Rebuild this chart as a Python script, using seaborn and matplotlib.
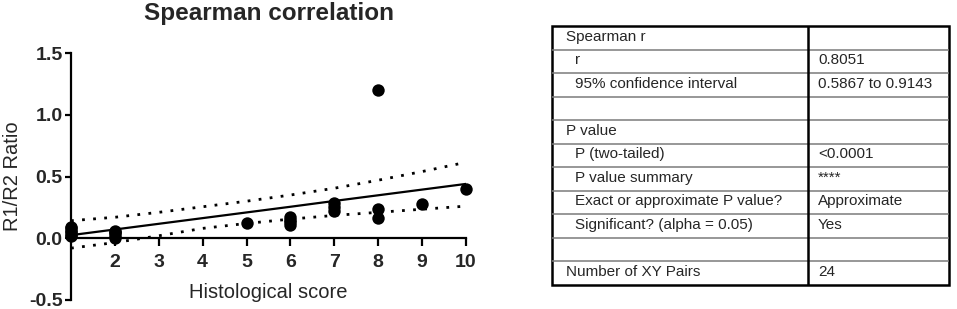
import matplotlib
matplotlib.use("Agg")
import pandas as pd
import seaborn as sns
import matplotlib.pyplot as plt
from matplotlib.patches import Rectangle

# Data
score = [1, 1, 1, 1, 1, 1, 2, 2, 2, 2, 2, 5, 6, 6, 6, 6, 7, 7, 7, 8, 8, 8, 9, 10]
ratio = [0.02, 0.03, 0.05, 0.06, 0.08, 0.09, 0.0, 0.02, 0.04, 0.05, 0.06,
         0.125, 0.11, 0.13, 0.15, 0.17, 0.22, 0.25, 0.285, 0.165, 0.235, 1.2,
         0.28, 0.395]

fit_x = [1, 2, 3, 4, 5, 6, 7, 8, 9, 10]
fit_y = [0.025, 0.071, 0.117, 0.163, 0.209, 0.255, 0.302, 0.348, 0.394, 0.44]
ci_upper = [0.142, 0.17, 0.21, 0.255, 0.30, 0.35, 0.405, 0.47, 0.54, 0.615]
ci_lower = [-0.08, -0.035, 0.02, 0.08, 0.12, 0.155, 0.185, 0.21, 0.235, 0.26]

x_ticks = [2, 3, 4, 5, 6, 7, 8, 9, 10]
y_ticks = [-0.5, 0.0, 0.5, 1.0, 1.5]
y_tick_labels = ["-0.5", "0.0", "0.5", "1.0", "1.5"]

# Result table
row_labels = ["Spearman r", "r", "95% confidence interval", "", "P value",
              "P (two-tailed)", "P value summary", "Exact or approximate P value?",
              "Significant? (alpha = 0.05)", "", "Number of XY Pairs"]
row_values = ["", "0.8051", "0.5867 to 0.9143", "", "", "<0.0001", "****",
              "Approximate", "Yes", "", "24"]
row_indent = [0, 1, 1, 0, 0, 1, 1, 1, 1, 0, 0]

sns.set_style("white")
plt.rcParams["font.family"] = ["Liberation Sans", "DejaVu Sans"]

fig = plt.figure(figsize=(9.57, 3.09), dpi=100)

# Scatter plot
ax = fig.add_axes([71 / 957, 1 - 300 / 309, 395 / 957, 247 / 309])
fit = pd.DataFrame({"x": fit_x, "y": fit_y, "lo": ci_lower, "hi": ci_upper})
sns.lineplot(data=fit, x="x", y="y", color="black", lw=1.6, ax=ax)
sns.lineplot(data=fit, x="x", y="hi", color="black", lw=2, ls=(0, (1, 3)), ax=ax)
sns.lineplot(data=fit, x="x", y="lo", color="black", lw=2, ls=(0, (1, 3)), ax=ax)
sns.scatterplot(x=score, y=ratio, color="black", s=80, edgecolor="black",
                linewidth=0, clip_on=False, zorder=5, ax=ax)

ax.set_xlim(1, 10)
ax.set_ylim(-0.5, 1.5)
ax.spines["top"].set_visible(False)
ax.spines["right"].set_visible(False)
ax.spines["bottom"].set_position(("data", 0))
ax.spines["bottom"].set_bounds(1, 10)
ax.spines["left"].set_bounds(-0.5, 1.5)
for s in ["left", "bottom"]:
    ax.spines[s].set_linewidth(1.6)
    ax.spines[s].set_color("black")

ax.set_xticks(x_ticks)
ax.set_xticklabels([str(t) for t in x_ticks], fontweight="bold", fontsize=14)
ax.set_yticks(y_ticks)
ax.set_yticklabels(y_tick_labels, fontweight="bold", fontsize=14)
ax.tick_params(axis="x", direction="out", length=6, width=1.6, pad=5.5,
               bottom=True, color="black")
ax.tick_params(axis="y", direction="out", length=4.5, width=1.6, pad=1.5,
               left=True, color="black")

ax.set_title("Spearman correlation", fontsize=17.5, fontweight="bold", pad=24)
ax.set_xlabel("Histological score", fontsize=14.5)
ax.xaxis.set_label_coords(0.5, 0.07)
ax.set_ylabel("R1/R2 Ratio", fontsize=14.5)
ax.yaxis.set_label_coords(-0.125, 0.5)

# Table
tx = fig.add_axes([552 / 957, 1 - 285 / 309, 397 / 957, 259 / 309])
tx.set_xlim(0, 1)
tx.set_ylim(len(row_labels), 0)
tx.axis("off")
for i in range(1, len(row_labels)):
    tx.plot([0, 1], [i, i], color="#7a7a7a", lw=1.1)
tx.plot([0.644, 0.644], [0, len(row_labels)], color="black", lw=1.8)
tx.add_patch(Rectangle((0, 0), 1, len(row_labels), fill=False,
                       edgecolor="black", lw=1.8, clip_on=False))
for i, (lab, val, ind) in enumerate(zip(row_labels, row_values, row_indent)):
    tx.text(0.035 + 0.023 * ind, i + 0.45, lab, fontsize=11, va="center", ha="left")
    tx.text(0.67, i + 0.45, val, fontsize=11, va="center", ha="left")

fig.savefig("out.png", dpi=100)
